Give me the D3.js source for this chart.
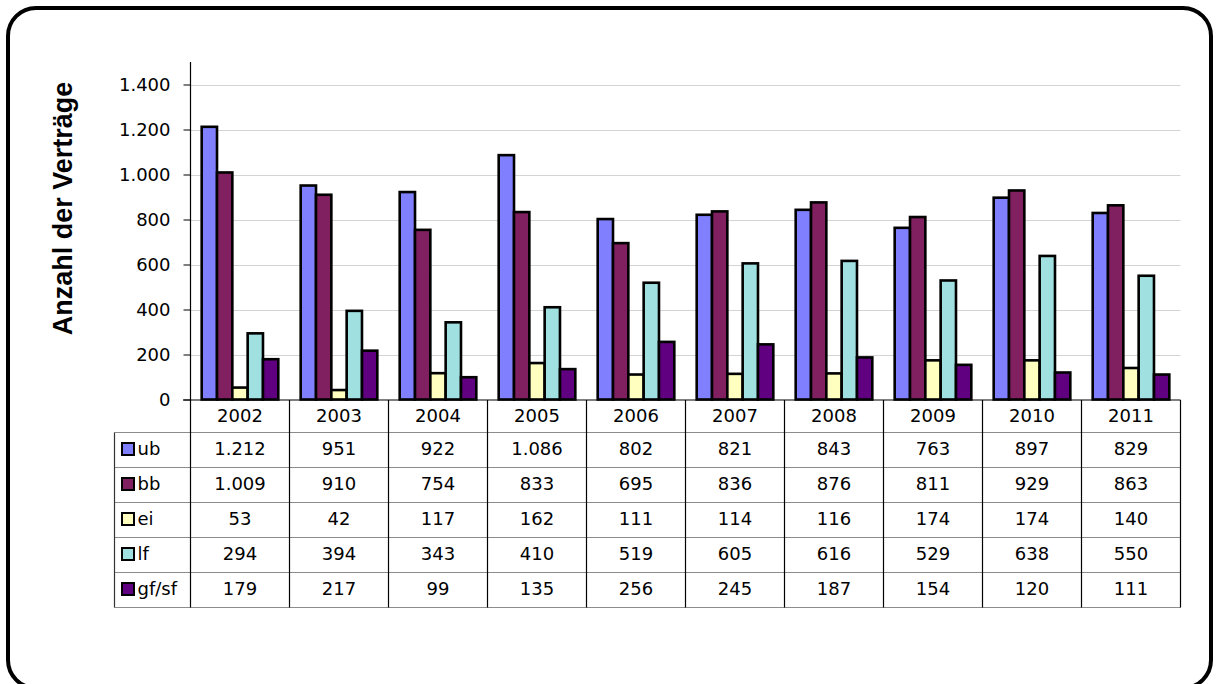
<!DOCTYPE html>
<html><head><meta charset="utf-8">
<script src="https://cdn.jsdelivr.net/npm/d3@7"></script>
<style>html,body{margin:0;padding:0;background:#fff;}svg{display:block;}</style>
</head><body>
<svg id="c" width="1216" height="684"></svg>
<script>
const years = ["2002","2003","2004","2005","2006","2007","2008","2009","2010","2011"];
const seriesNames = ["ub","bb","ei","lf","gf/sf"];
const ub   = [1212, 951, 922, 1086, 802, 821, 843, 763, 897, 829];
const bb   = [1009, 910, 754, 833, 695, 836, 876, 811, 929, 863];
const ei   = [53, 42, 117, 162, 111, 114, 116, 174, 174, 140];
const lf   = [294, 394, 343, 410, 519, 605, 616, 529, 638, 550];
const gfsf = [179, 217, 99, 135, 256, 245, 187, 154, 120, 111];
const seriesColors = ["#8080FF","#802060","#FFFFC0","#A0E0E0","#600080"];
const yTicks = [0,200,400,600,800,1000,1200,1400];
const yTitle = "Anzahl der Verträge";

const series = [ub, bb, ei, lf, gfsf].map((v,i)=>({name:seriesNames[i], values:v, color:seriesColors[i]}));
const fmt = d3.formatLocale({decimal:",", thousands:".", grouping:[3], currency:["","€"]}).format(",d");

const svg = d3.select("#c");
const FONT = "'DejaVu Sans', sans-serif";
const FS = "18px";

svg.append("rect").attr("x",8).attr("y",8).attr("width",1203).attr("height",680)
  .attr("rx",28).attr("ry",28).attr("fill","#fff").attr("stroke","#000").attr("stroke-width",4);

const left = 190.5, right = 1180.5, y0 = 399.5, yTop = 84.5;
const x = d3.scaleBand().domain(years).range([left, right]).paddingInner(0).paddingOuter(0);
const y = d3.scaleLinear().domain([0,1400]).range([y0, yTop]);
const xi = d3.scaleBand().domain(seriesNames).range([0, x.bandwidth()]).paddingOuter(0.73).paddingInner(0);

svg.append("g").selectAll("line").data(yTicks.filter(d=>d>0)).join("line")
  .attr("x1",left).attr("x2",right).attr("y1",d=>Math.round(y(d))+0.5).attr("y2",d=>Math.round(y(d))+0.5)
  .attr("stroke","#d4d4d4").attr("stroke-width",1);

const yAxis = d3.axisLeft(y).tickValues(yTicks).tickSize(7).tickPadding(13).tickFormat(d=>fmt(d));
const ga = svg.append("g").attr("transform",`translate(${left},0)`).call(yAxis);
ga.select(".domain").remove();
ga.selectAll(".tick line").attr("stroke","#000");
ga.selectAll("text").attr("font-family",FONT).attr("font-size",FS).attr("fill","#000");
svg.append("line").attr("x1",left).attr("x2",left).attr("y1",62).attr("y2",y0+1).attr("stroke","#000").attr("stroke-width",1.2);

const gBars = svg.append("g");
series.forEach(s=>{
  gBars.append("g").selectAll("rect").data(s.values.map((v,i)=>({v, year:years[i]}))).join("rect")
    .attr("x",d=>x(d.year)+xi(s.name))
    .attr("width",xi.bandwidth())
    .attr("y",d=>y(d.v))
    .attr("height",d=>y0-y(d.v))
    .attr("fill",s.color).attr("stroke","#000").attr("stroke-width",2.6);
});

svg.append("line").attr("x1",183).attr("x2",right).attr("y1",y0+0.5).attr("y2",y0+0.5).attr("stroke","#000").attr("stroke-width",1.2);

const rowH = 35, headH = 31.5, tLeft = 114.5;
const tTop = y0 + 0.5;
const rowsTop = tTop + headH;
const tBottom = rowsTop + rowH*series.length;
const tbl = svg.append("g");

const hLines = d3.range(series.length+1).map(i=>rowsTop + i*rowH);
tbl.selectAll("line.h").data(hLines).join("line").attr("class","h")
  .attr("x1",tLeft).attr("x2",right).attr("y1",d=>Math.round(d)+0.5).attr("y2",d=>Math.round(d)+0.5)
  .attr("stroke","#8c8c8c").attr("stroke-width",1.2);
const vX = years.map(yr=>x(yr)).concat([right]);
tbl.selectAll("line.v").data(vX).join("line").attr("class","v")
  .attr("x1",d=>d).attr("x2",d=>d).attr("y1",tTop).attr("y2",Math.round(tBottom)+0.5)
  .attr("stroke","#000").attr("stroke-width",1.2);
tbl.append("line").attr("x1",tLeft).attr("x2",tLeft).attr("y1",Math.round(rowsTop)+0.5).attr("y2",Math.round(tBottom)+0.5)
  .attr("stroke","#333").attr("stroke-width",1.2);

tbl.selectAll("text.yr").data(years).join("text").attr("class","yr")
  .attr("x",d=>x(d)+x.bandwidth()/2).attr("y",tTop+headH/2).attr("dy","0.36em")
  .attr("text-anchor","middle").attr("font-family",FONT).attr("font-size",FS).text(d=>d);

series.forEach((s,i)=>{
  const cy = rowsTop + i*rowH + rowH/2;
  tbl.append("rect").attr("x",122).attr("y",cy-6).attr("width",12).attr("height",12)
    .attr("fill",s.color).attr("stroke","#000").attr("stroke-width",2);
  tbl.append("text").attr("x",137.5).attr("y",cy).attr("dy","0.36em")
    .attr("font-family",FONT).attr("font-size",FS).text(s.name);
  tbl.append("g").selectAll("text").data(s.values).join("text")
    .attr("x",(d,j)=>x(years[j])+x.bandwidth()/2).attr("y",cy).attr("dy","0.36em")
    .attr("text-anchor","middle").attr("font-family",FONT).attr("font-size",FS).text(d=>fmt(d));
});

svg.append("text").attr("transform",`translate(72,${208.5}) rotate(-90)`)
  .attr("text-anchor","middle").attr("font-family","'Liberation Sans', Arial, sans-serif")
  .attr("font-weight","bold").attr("font-size","27px").text(yTitle);
</script>
</body></html>
